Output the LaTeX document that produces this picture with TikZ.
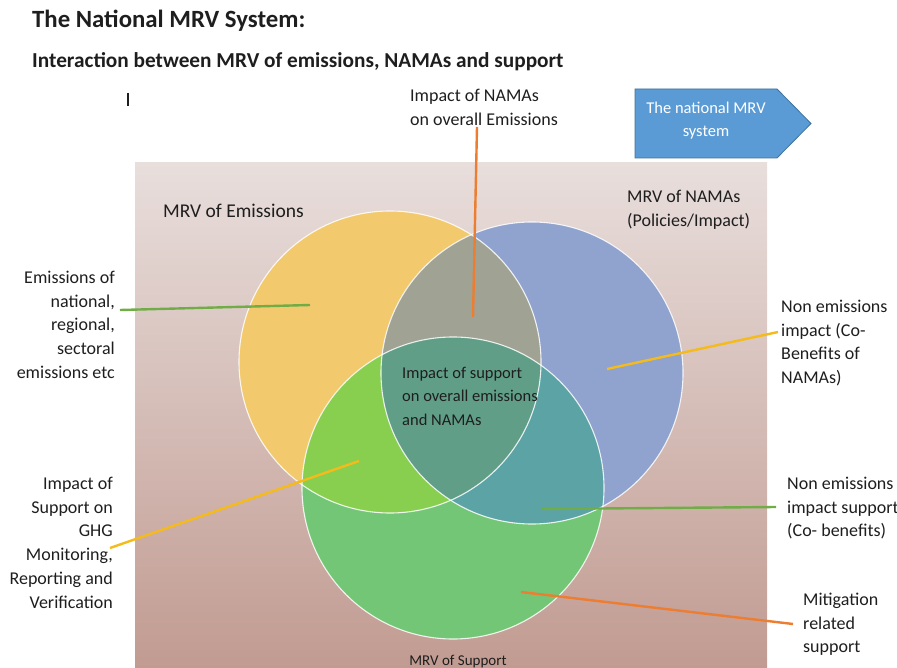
\documentclass[tikz,border=0pt]{standalone}
\usepackage{fontspec}
\setmainfont{Carlito}
\definecolor{bgtop}{HTML}{E8DEDC}
\definecolor{bgbot}{HTML}{C19B91}
\definecolor{cyel}{HTML}{F2C96C}
\definecolor{cblu}{HTML}{8FA3CE}
\definecolor{cgrn}{HTML}{74C677}
\definecolor{cgry}{HTML}{A0A394}
\definecolor{clim}{HTML}{88CF50}
\definecolor{ctea}{HTML}{5CA3A6}
\definecolor{ccen}{HTML}{619E88}
\definecolor{lorange}{HTML}{ED7D31}
\definecolor{lgreen}{HTML}{70AD47}
\definecolor{lgold}{HTML}{F5BA1C}
\definecolor{arrfill}{HTML}{5B9BD5}
\definecolor{arrline}{HTML}{41719C}
\definecolor{txt}{HTML}{1E1E1E}
\begin{document}
\begin{tikzpicture}[x=1pt,y=-1pt,
  lab/.style={inner sep=0pt, text=txt, font=\fontsize{18}{23.8}\selectfont},
  ttl/.style={inner sep=0pt, text=txt, anchor=base west},
  conn/.style={line width=2.4pt},
  ring/.style={draw=white, draw opacity=0.85, line width=1.1pt}]
\useasboundingbox (0,0) rectangle (897,668);
% background panel
\shade[top color=bgtop, bottom color=bgbot] (135,163) rectangle (767,668);
% circle centres
\coordinate (Y) at (390,362);
\coordinate (B) at (532,373);
\coordinate (G) at (453,488);
% fills
\fill[cyel] (Y) circle (151pt);
\fill[cblu] (B) circle (151pt);
\fill[cgrn] (G) circle (151pt);
\begin{scope}\clip (Y) circle (151pt); \fill[cgry] (B) circle (151pt);\end{scope}
\begin{scope}\clip (Y) circle (151pt); \fill[clim] (G) circle (151pt);\end{scope}
\begin{scope}\clip (B) circle (151pt); \fill[ctea] (G) circle (151pt);\end{scope}
\begin{scope}\clip (Y) circle (151pt); \clip (B) circle (151pt); \fill[ccen] (G) circle (151pt);\end{scope}
\draw[ring] (Y) circle (151pt);
\draw[ring] (B) circle (151pt);
\draw[ring] (G) circle (151pt);
% titles
\node[ttl, font=\bfseries\fontsize{24.8}{28}\selectfont] (title) at (32,27.5) {The National MRV System:};
\node[ttl, font=\bfseries\fontsize{21.3}{24}\selectfont] (subtitle) at (32,67.5) {Interaction between MRV of emissions, NAMAs and support};
\draw[line width=1.1pt, txt] (128,93) -- (128,106);
% arrow box
\draw[fill=arrfill, draw=arrline, line width=0.8pt] (635,89) -- (777,89) -- (811,123.5) -- (777,158) -- (635,158) -- cycle;
\node[inner sep=0pt, text=white, anchor=north, align=center, font=\fontsize{16.5}{23}\selectfont] (arrtxt) at (706,97) {\strut The national MRV\\system};
% labels
\node[lab, anchor=north west, align=left] (namaimp) at (410,84.5) {\strut Impact of NAMAs\\on overall Emissions};
\node[lab, anchor=north west, align=left, font=\fontsize{19.5}{23.8}\selectfont] (mrvem) at (163,200.5) {\strut MRV of Emissions};
\node[lab, anchor=north west, align=left] (mrvnama) at (627,185.5) {\strut MRV of NAMAs\\(Policies/Impact)};
\node[lab, anchor=north east, align=right] (emis) at (115,266.5) {\strut Emissions of\\national,\\regional,\\sectoral\\emissions etc};
\node[lab, anchor=north east, align=right] (supghg) at (113,472.5) {\strut Impact of\\Support on\\GHG\\Monitoring,\\Reporting and\\Verification};
\node[lab, anchor=north west, align=left] (nonem) at (781,295.5) {\strut Non emissions\\impact (Co-\\Benefits of\\NAMAs)};
\node[lab, anchor=north west, align=left] (nonsup) at (787,472.5) {\strut Non emissions\\impact support\\(Co- benefits)};
\node[lab, anchor=north west, align=left] (mitig) at (803,588.5) {\strut Mitigation\\related\\support};
\node[inner sep=0pt, text=txt, anchor=north west, align=left, font=\fontsize{16.5}{23.5}\selectfont] (center) at (402,361.5) {\strut Impact of support\\on overall emissions\\and NAMAs};
\node[inner sep=0pt, text=txt, anchor=base, font=\fontsize{15}{18}\selectfont] (mrvsup) at (458,665) {MRV of Support};
% connector end points
\coordinate (c1a) at (477,127);   \coordinate (c1b) at (473,317);
\coordinate (c2a) at (120,310);   \coordinate (c2b) at (310,305);
\coordinate (c3a) at (110,548);   \coordinate (c3b) at (359,461);
\coordinate (c4a) at (778,332);   \coordinate (c4b) at (607,369);
\coordinate (c5a) at (776,507);   \coordinate (c5b) at (541,509);
\coordinate (c6a) at (793,624);   \coordinate (c6b) at (521,592);
\draw[conn, lorange] (c1a) -- (c1b);
\draw[conn, lgreen] (c2a) -- (c2b);
\draw[conn, lgold] (c3a) -- (c3b);
\draw[conn, lgold] (c4a) -- (c4b);
\draw[conn, lgreen] (c5a) -- (c5b);
\draw[conn, lorange] (c6a) -- (c6b);
\end{tikzpicture}
\end{document}
